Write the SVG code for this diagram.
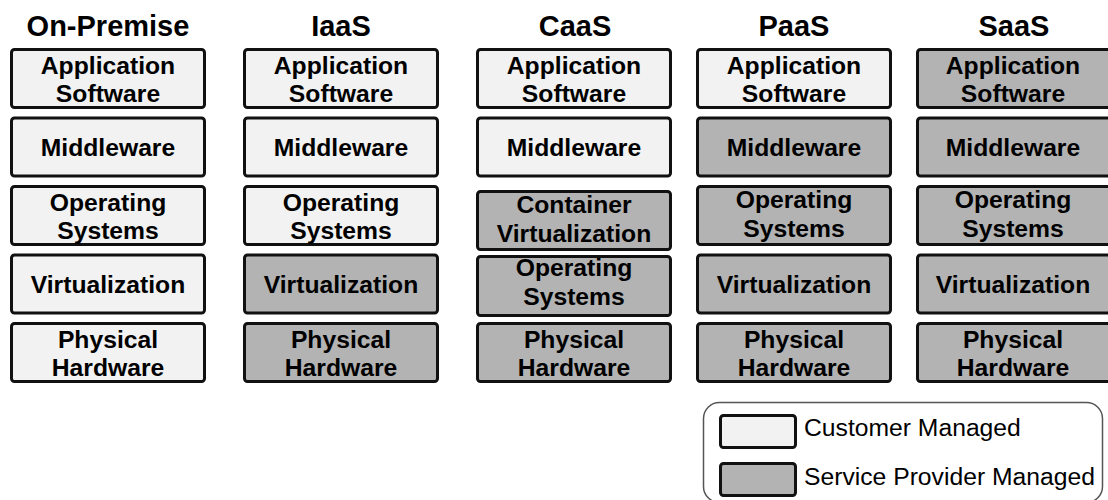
<svg xmlns="http://www.w3.org/2000/svg" width="1108" height="500" viewBox="0 0 1108 500">
<style>
.box{stroke:#111;stroke-width:3}
.c{fill:#f2f2f2}
.s{fill:#b3b3b3}
.t{font-family:"Liberation Sans",Arial,sans-serif;font-weight:bold;font-size:24.7px;fill:#000;text-anchor:middle}
.h{font-family:"Liberation Sans",Arial,sans-serif;font-weight:bold;font-size:29px;fill:#000;text-anchor:middle}
.l{font-family:"Liberation Sans",Arial,sans-serif;font-size:24.7px;fill:#000}
</style>
<rect width="1108" height="500" fill="#fff"/>
<g id="titles">
<text class="h" x="108" y="36">On-Premise</text>
<text class="h" x="341" y="36">IaaS</text>
<text class="h" x="575" y="36">CaaS</text>
<text class="h" x="794" y="36">PaaS</text>
<text class="h" x="1014" y="36">SaaS</text>
</g>
<g id="col-onpremise">
<g id="op-app"><rect class="box c" x="11.5" y="49.5" width="193" height="58" rx="3"/><text class="t" x="108" y="73.5">Application</text><text class="t" x="108" y="102">Software</text></g>
<g id="op-mid"><rect class="box c" x="11.5" y="118" width="193" height="58" rx="3"/><text class="t" x="108" y="156">Middleware</text></g>
<g id="op-os"><rect class="box c" x="11.5" y="186.5" width="193" height="58" rx="3"/><text class="t" x="108" y="210.5">Operating</text><text class="t" x="108" y="239">Systems</text></g>
<g id="op-virt"><rect class="box c" x="11.5" y="255" width="193" height="58" rx="3"/><text class="t" x="108" y="293">Virtualization</text></g>
<g id="op-hw"><rect class="box c" x="11.5" y="323.5" width="193" height="58" rx="3"/><text class="t" x="108" y="347.5">Physical</text><text class="t" x="108" y="376">Hardware</text></g>
</g>
<g id="col-iaas">
<g id="ia-app"><rect class="box c" x="244.5" y="49.5" width="193" height="58" rx="3"/><text class="t" x="341" y="73.5">Application</text><text class="t" x="341" y="102">Software</text></g>
<g id="ia-mid"><rect class="box c" x="244.5" y="118" width="193" height="58" rx="3"/><text class="t" x="341" y="156">Middleware</text></g>
<g id="ia-os"><rect class="box c" x="244.5" y="186.5" width="193" height="58" rx="3"/><text class="t" x="341" y="210.5">Operating</text><text class="t" x="341" y="239">Systems</text></g>
<g id="ia-virt"><rect class="box s" x="244.5" y="255" width="193" height="58" rx="3"/><text class="t" x="341" y="293">Virtualization</text></g>
<g id="ia-hw"><rect class="box s" x="244.5" y="323.5" width="193" height="58" rx="3"/><text class="t" x="341" y="347.5">Physical</text><text class="t" x="341" y="376">Hardware</text></g>
</g>
<g id="col-caas">
<g id="ca-app"><rect class="box c" x="477.5" y="49.5" width="193" height="58" rx="3"/><text class="t" x="574" y="73.5">Application</text><text class="t" x="574" y="102">Software</text></g>
<g id="ca-mid"><rect class="box c" x="477.5" y="118" width="193" height="58" rx="3"/><text class="t" x="574" y="156">Middleware</text></g>
<g id="ca-cont"><rect class="box s" x="477.5" y="191.5" width="193" height="58" rx="3"/><text class="t" x="574" y="213">Container</text><text class="t" x="574" y="241.5">Virtualization</text></g>
<g id="ca-os"><rect class="box s" x="477.5" y="256.5" width="193" height="59" rx="3"/><text class="t" x="574" y="276">Operating</text><text class="t" x="574" y="304.5">Systems</text></g>
<g id="ca-hw"><rect class="box s" x="477.5" y="323.5" width="193" height="58" rx="3"/><text class="t" x="574" y="347.5">Physical</text><text class="t" x="574" y="376">Hardware</text></g>
</g>
<g id="col-paas">
<g id="pa-app"><rect class="box c" x="697.5" y="49.5" width="193" height="58" rx="3"/><text class="t" x="794" y="73.5">Application</text><text class="t" x="794" y="102">Software</text></g>
<g id="pa-mid"><rect class="box s" x="697.5" y="118" width="193" height="58" rx="3"/><text class="t" x="794" y="156">Middleware</text></g>
<g id="pa-os"><rect class="box s" x="697.5" y="186.5" width="193" height="58" rx="3"/><text class="t" x="794" y="208">Operating</text><text class="t" x="794" y="236.5">Systems</text></g>
<g id="pa-virt"><rect class="box s" x="697.5" y="255" width="193" height="58" rx="3"/><text class="t" x="794" y="293">Virtualization</text></g>
<g id="pa-hw"><rect class="box s" x="697.5" y="323.5" width="193" height="58" rx="3"/><text class="t" x="794" y="347.5">Physical</text><text class="t" x="794" y="376">Hardware</text></g>
</g>
<g id="col-saas">
<g id="sa-app"><rect class="box s" x="917.5" y="49.5" width="193" height="58" rx="3"/><text class="t" x="1013" y="73.5">Application</text><text class="t" x="1013" y="102">Software</text></g>
<g id="sa-mid"><rect class="box s" x="917.5" y="118" width="193" height="58" rx="3"/><text class="t" x="1013" y="156">Middleware</text></g>
<g id="sa-os"><rect class="box s" x="917.5" y="186.5" width="193" height="58" rx="3"/><text class="t" x="1013" y="208">Operating</text><text class="t" x="1013" y="236.5">Systems</text></g>
<g id="sa-virt"><rect class="box s" x="917.5" y="255" width="193" height="58" rx="3"/><text class="t" x="1013" y="293">Virtualization</text></g>
<g id="sa-hw"><rect class="box s" x="917.5" y="323.5" width="193" height="58" rx="3"/><text class="t" x="1013" y="347.5">Physical</text><text class="t" x="1013" y="376">Hardware</text></g>
</g>
<g id="connectors"></g>
<g id="legend">
<rect x="703.5" y="402.5" width="399" height="100" rx="16" fill="#fff" stroke="#555" stroke-width="1.5"/>
<rect class="box c" x="720.5" y="415.5" width="75" height="32" rx="3"/>
<text class="l" x="804" y="436">Customer Managed</text>
<rect class="box s" x="720.5" y="463.5" width="75" height="32" rx="3"/>
<text class="l" x="804" y="485">Service Provider Managed</text>
</g>
</svg>
